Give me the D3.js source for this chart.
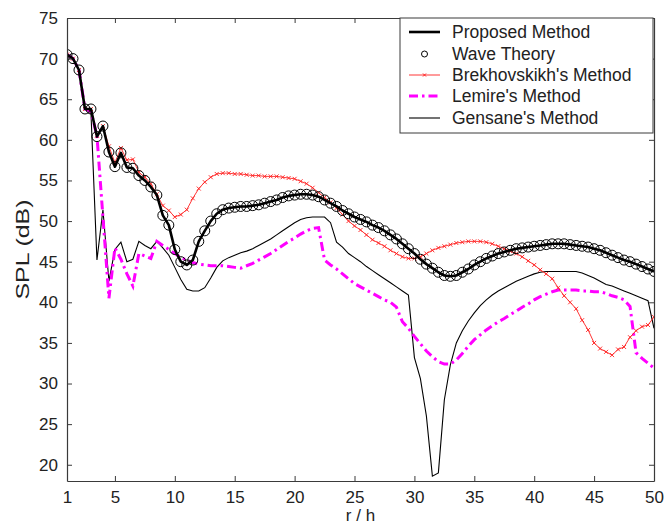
<!DOCTYPE html>
<html>
<head>
<meta charset="utf-8">
<script src="https://cdn.jsdelivr.net/npm/d3@7"></script>
<style>
  html, body { margin: 0; padding: 0; background: #fff; }
  text { font-family: "Liberation Sans", Arial, sans-serif; }
</style>
</head>
<body>
<svg id="chart" width="667" height="528"></svg>
<script>
// r/h sample positions
const rh = [1,1.5,2,2.5,3,3.5,4,4.5,5,5.5,6,6.5,7,7.5,8,8.5,9,9.5,10,10.5,
  11,11.5,12,12.5,13,13.5,14,14.5,15,15.5,16,16.5,17,17.5,18,18.5,19,19.5,20,20.5,
  21,21.5,22,22.5,23,23.5,24,24.5,25,25.5,26,26.5,27,27.5,28,28.5,29,29.5,30,30.5,
  31,31.5,32,32.5,33,33.5,34,34.5,35,35.5,36,36.5,37,37.5,38,38.5,39,39.5,40,40.5,
  41,41.5,42,42.5,43,43.5,44,44.5,45,45.5,46,46.5,47,47.5,48,48.5,49,49.5,50];

const proposed = [70.5,70.0,68.6,63.8,63.8,60.4,61.7,58.5,56.7,58.4,56.6,56.5,55.6,55.0,54.2,53.2,50.7,49.5,46.5,45.0,
  44.6,45.2,47.5,48.8,50.0,50.9,51.4,51.6,51.7,51.8,51.8,51.9,52.0,52.2,52.4,52.6,52.9,53.1,53.2,53.3,
  53.3,53.2,53.0,52.6,52.2,51.8,51.3,50.9,50.5,50.2,49.9,49.5,49.2,48.8,48.3,47.8,47.2,46.6,46.0,45.3,
  44.7,44.2,43.7,43.3,43.2,43.3,43.7,44.1,44.6,45.0,45.4,45.7,46.0,46.2,46.4,46.6,46.7,46.8,46.9,47.0,
  47.1,47.2,47.2,47.2,47.1,47.0,46.9,46.8,46.6,46.4,46.1,45.8,45.5,45.2,45.0,44.7,44.4,44.1,43.8];

const waveTheory = [70.5,70.0,68.6,63.8,63.8,60.4,61.7,58.5,56.7,58.4,56.6,56.5,55.6,55.0,54.2,53.2,50.7,49.5,46.5,45.0,
  44.6,45.2,47.5,48.8,50.0,50.9,51.4,51.6,51.7,51.8,51.8,51.9,52.0,52.2,52.4,52.6,52.9,53.1,53.2,53.3,
  53.3,53.2,53.0,52.6,52.2,51.8,51.3,50.9,50.5,50.2,49.9,49.5,49.2,48.8,48.3,47.8,47.2,46.6,46.0,45.3,
  44.7,44.2,43.7,43.3,43.2,43.3,43.7,44.1,44.6,45.0,45.4,45.7,46.0,46.2,46.4,46.6,46.7,46.8,46.9,47.0,
  47.1,47.2,47.2,47.2,47.1,47.0,46.9,46.8,46.6,46.4,46.1,45.8,45.5,45.2,45.0,44.7,44.4,44.1,43.8];

const brekhovskikh = [70.5,70.0,68.6,63.8,63.8,60.5,61.7,59.2,57.2,59.0,57.5,57.6,56.0,55.4,54.6,53.3,51.9,51.3,50.5,50.8,
  51.4,52.8,54.0,54.8,55.4,55.8,55.9,55.9,55.8,55.8,55.7,55.6,55.6,55.5,55.5,55.5,55.4,55.3,55.2,54.9,
  54.6,54.1,53.5,52.9,52.3,51.6,50.8,50.0,49.4,48.9,48.3,47.7,47.3,46.9,46.4,46.0,45.6,45.4,45.4,45.6,
  46.0,46.4,46.7,46.9,47.1,47.3,47.4,47.5,47.5,47.5,47.4,47.2,46.9,46.6,46.3,46.0,45.6,45.1,44.6,44.0,
  43.5,42.9,41.8,40.8,40.0,39.2,37.8,36.6,35.0,34.3,33.9,33.5,34.2,34.5,35.7,36.5,37.0,37.2,38.2];

const lemire = [70.5,70.0,68.6,63.8,63.5,60.5,50.5,40.5,46.7,45.3,43.5,42.0,46.0,45.7,45.4,47.5,47.0,46.5,46.0,45.5,
  45.2,44.9,44.7,44.6,44.5,44.5,44.5,44.4,44.3,44.2,44.5,44.8,45.2,45.6,46.0,46.5,47.0,47.5,47.9,48.4,
  48.8,49.1,49.2,45.2,44.6,44.1,43.5,42.9,42.3,41.9,41.5,41.1,40.7,40.3,40.0,39.4,37.6,36.8,35.8,34.9,
  34.0,33.3,32.7,32.4,32.4,32.9,33.7,34.6,35.4,36.0,36.6,37.1,37.6,38.0,38.5,38.9,39.4,39.8,40.3,40.7,
  41.0,41.3,41.5,41.5,41.5,41.5,41.4,41.4,41.3,41.3,41.1,40.8,40.6,40.3,39.5,33.8,33.1,32.5,31.9];

const gensane = [70.5,70.0,68.6,63.8,63.3,45.2,51.4,42.6,46.5,47.4,45.0,45.3,47.5,47.0,46.6,47.5,46.7,45.8,44.3,42.8,
  41.6,41.4,41.4,41.8,43.0,44.3,45.1,45.5,45.8,46.1,46.3,46.6,47.0,47.4,47.8,48.3,48.8,49.3,49.8,50.2,
  50.4,50.5,50.5,50.5,49.8,47.4,46.8,46.0,45.5,45.0,44.4,43.9,43.4,42.9,42.4,41.9,41.4,40.9,33.2,30.6,
  26.0,18.6,19.0,28.0,32.3,35.0,36.5,37.7,38.7,39.6,40.3,40.9,41.4,41.8,42.2,42.6,42.9,43.2,43.5,43.7,
  43.8,43.8,43.8,43.8,43.8,43.8,43.6,43.3,43.0,42.6,42.2,42.0,41.7,41.4,41.1,40.8,40.5,40.2,36.8];

const xTicks = [1,5,10,15,20,25,30,35,40,45,50];
const yTicks = [20,25,30,35,40,45,50,55,60,65,70,75];
const legendLabels = ["Proposed Method","Wave Theory","Brekhovskikh's Method","Lemire's Method","Gensane's Method"];

const W = 667, H = 528;
const m = {left: 67, right: 13, top: 18, bottom: 47};
const svg = d3.select("#chart");
const x = d3.scaleLinear().domain([1, 50]).range([m.left, W - m.right]);
const y = d3.scaleLinear().domain([18, 75]).range([H - m.bottom, m.top]);

const axisColor = "#3a3a3a";
const fontSize = 17;

// clip
svg.append("defs").append("clipPath").attr("id","clip")
  .append("rect").attr("x", m.left).attr("y", m.top)
  .attr("width", x(50)-m.left).attr("height", y(18)-m.top);

const line = d3.line().x((d,i)=>x(rh[i])).y(d=>y(d));
const plot = svg.append("g").attr("clip-path","url(#clip)");

// Gensane
plot.append("path").attr("d", line(gensane)).attr("fill","none")
  .attr("stroke","#000").attr("stroke-width",1.1);
// Lemire
plot.append("path").attr("d", line(lemire)).attr("fill","none")
  .attr("stroke","#ff00ff").attr("stroke-width",3)
  .attr("stroke-dasharray","9,4,2.5,4");
// Brekhovskikh
plot.append("path").attr("d", line(brekhovskikh)).attr("fill","none")
  .attr("stroke","#ff2020").attr("stroke-width",0.9);
const xm = 2;
plot.append("g").selectAll("path").data(brekhovskikh).join("path")
  .attr("d",(d,i)=>{const cx=x(rh[i]), cy=y(d);
     return `M${cx-xm},${cy-xm}L${cx+xm},${cy+xm}M${cx-xm},${cy+xm}L${cx+xm},${cy-xm}`;})
  .attr("stroke","#ff2020").attr("stroke-width",0.9);
// Proposed
plot.append("path").attr("d", line(proposed)).attr("fill","none")
  .attr("stroke","#000").attr("stroke-width",2.6).attr("stroke-linejoin","round");
// Wave theory circles
plot.append("g").selectAll("circle").data(waveTheory).join("circle")
  .attr("cx",(d,i)=>x(rh[i])).attr("cy",d=>y(d)).attr("r",5)
  .attr("fill","none").attr("stroke","#000").attr("stroke-width",1);

// axes (box with inward ticks, MATLAB style)
const tickLen = 5;
const gBottom = svg.append("g").attr("transform",`translate(0,${y(18)})`)
  .call(d3.axisBottom(x).tickValues(xTicks).tickSizeInner(-tickLen).tickSizeOuter(0).tickPadding(10));
const gTop = svg.append("g").attr("transform",`translate(0,${m.top})`)
  .call(d3.axisTop(x).tickValues(xTicks).tickSizeInner(-tickLen).tickSizeOuter(0).tickFormat(""));
const gLeft = svg.append("g").attr("transform",`translate(${m.left},0)`)
  .call(d3.axisLeft(y).tickValues(yTicks).tickSizeInner(-tickLen).tickSizeOuter(0).tickPadding(9));
const gRight = svg.append("g").attr("transform",`translate(${x(50)},0)`)
  .call(d3.axisRight(y).tickValues(yTicks).tickSizeInner(-tickLen).tickSizeOuter(0).tickFormat(""));
[gBottom, gTop, gLeft, gRight].forEach(g=>{
  g.selectAll("path.domain").attr("stroke",axisColor).attr("stroke-width",1.2);
  g.selectAll("line").attr("stroke",axisColor).attr("stroke-width",1);
  g.selectAll("text").attr("font-size",fontSize).attr("fill","#222")
    .attr("font-family","Liberation Sans, Arial, sans-serif");
});

// axis titles
svg.append("text").attr("x",(m.left + x(50))/2).attr("y",521)
  .attr("text-anchor","middle").attr("font-size",fontSize).attr("fill","#222").text("r / h");
svg.append("text").attr("transform",`translate(29,${(m.top + y(18))/2}) rotate(-90)`)
  .attr("text-anchor","middle").attr("font-size",19).attr("fill","#222")
  .attr("textLength",100).attr("lengthAdjust","spacingAndGlyphs").text("SPL (dB)");

// legend
const lg = svg.append("g");
const lx0 = 400, ly0 = m.top, lx1 = x(50) - 1, ly1 = 133;
lg.append("rect").attr("x",lx0).attr("y",ly0).attr("width",lx1-lx0).attr("height",ly1-ly0)
  .attr("fill","#fff").attr("stroke",axisColor).attr("stroke-width",1);
const rowY = [32, 54, 75, 96, 118];
const sx0 = 409, sx1 = 440, tx = 452;
legendLabels.forEach((lab,i)=>{
  lg.append("text").attr("x",tx).attr("y",rowY[i]).attr("dy","0.35em")
    .attr("font-size",17.5).attr("fill","#222").text(lab);
});
lg.append("line").attr("x1",sx0).attr("x2",sx1).attr("y1",rowY[0]).attr("y2",rowY[0])
  .attr("stroke","#000").attr("stroke-width",2.6);
lg.append("circle").attr("cx",(sx0+sx1)/2).attr("cy",rowY[1]).attr("r",3)
  .attr("fill","none").attr("stroke","#000").attr("stroke-width",1);
lg.append("line").attr("x1",sx0).attr("x2",sx1).attr("y1",rowY[2]).attr("y2",rowY[2])
  .attr("stroke","#ff2020").attr("stroke-width",0.9);
lg.append("path").attr("d",`M${(sx0+sx1)/2-1.5},${rowY[2]-1.5}L${(sx0+sx1)/2+1.5},${rowY[2]+1.5}M${(sx0+sx1)/2-1.5},${rowY[2]+1.5}L${(sx0+sx1)/2+1.5},${rowY[2]-1.5}`)
  .attr("stroke","#ff2020").attr("stroke-width",1);
lg.append("line").attr("x1",sx0).attr("x2",sx1).attr("y1",rowY[3]).attr("y2",rowY[3])
  .attr("stroke","#ff00ff").attr("stroke-width",3).attr("stroke-dasharray","9,4,2.5,4");
lg.append("line").attr("x1",sx0).attr("x2",sx1).attr("y1",rowY[4]).attr("y2",rowY[4])
  .attr("stroke","#000").attr("stroke-width",1.1);
</script>
</body>
</html>
